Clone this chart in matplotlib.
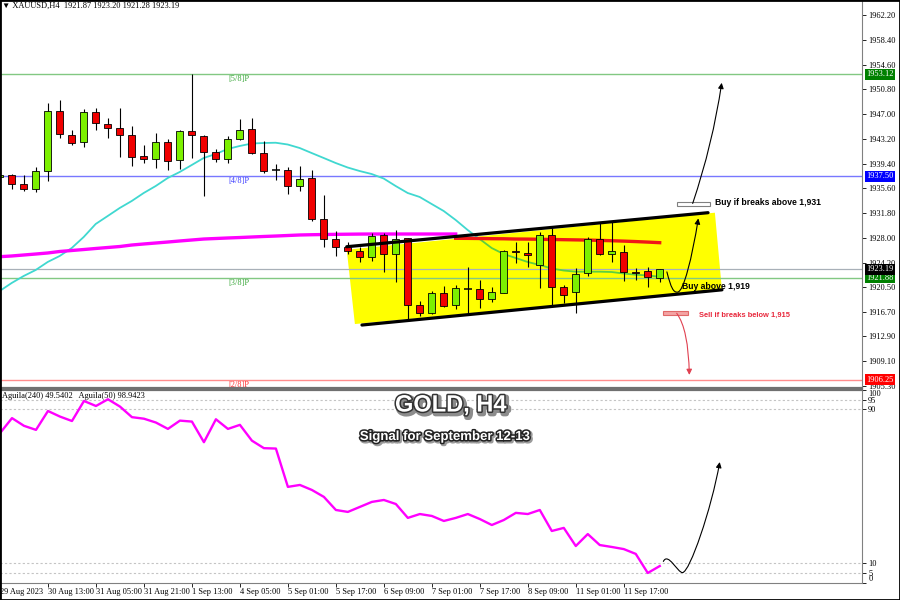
import matplotlib
matplotlib.use("Agg")
import matplotlib.pyplot as plt
import matplotlib.patheffects as pe
from matplotlib.patches import Rectangle, Polygon, FancyArrowPatch
from matplotlib.path import Path
from matplotlib.transforms import blended_transform_factory
import numpy as np

plt.rcParams['font.family'] = ['Liberation Serif', 'DejaVu Sans']

# XAUUSD H4 candles, bar -1 is the half hidden one on the left edge
opens = [1937.30, 1937.66, 1936.28, 1935.47, 1938.27, 1947.52, 1943.84, 1942.72,
         1947.28, 1945.48, 1944.91, 1943.84, 1940.53, 1940.16, 1942.77, 1939.96,
         1944.36, 1943.69, 1941.19, 1940.07, 1943.14, 1944.67, 1941.08, 1938.43,
         1938.43, 1935.97, 1937.15, 1930.87, 1927.89, 1926.66, 1926.00, 1925.04,
         1928.46, 1925.54, 1927.95, 1917.72, 1916.45, 1919.61, 1917.68, 1920.22,
         1920.13, 1918.60, 1919.61, 1926.05, 1925.74, 1923.86, 1928.46, 1920.53,
         1919.76, 1922.58, 1927.80, 1925.50, 1925.90, 1922.83, 1922.94, 1921.87]
highs = [1937.80, 1937.80, 1937.66, 1938.84, 1948.75, 1949.16, 1944.56, 1947.78,
         1947.98, 1946.36, 1947.98, 1945.22, 1942.26, 1944.15, 1943.14, 1944.56,
         1953.15, 1943.80, 1941.60, 1943.64, 1946.20, 1946.36, 1942.92, 1939.30,
         1938.93, 1939.04, 1938.43, 1934.59, 1929.12, 1927.43, 1926.66, 1928.72,
         1928.72, 1929.23, 1928.00, 1918.38, 1919.92, 1920.64, 1920.79, 1923.60,
         1921.56, 1920.44, 1926.10, 1927.34, 1927.43, 1928.96, 1929.49, 1920.79,
         1923.35, 1928.10, 1930.50, 1930.50, 1926.92, 1923.35, 1923.60, 1923.20]
lows = [1937.10, 1935.47, 1935.25, 1935.10, 1936.79, 1943.29, 1942.26, 1941.90,
        1944.56, 1943.29, 1940.47, 1939.04, 1939.45, 1938.69, 1938.43, 1938.58,
        1940.22, 1934.44, 1939.65, 1939.45, 1943.00, 1940.83, 1937.92, 1936.90,
        1934.75, 1935.25, 1930.65, 1926.66, 1925.24, 1925.54, 1924.27, 1924.47,
        1922.74, 1921.30, 1915.53, 1916.04, 1916.30, 1917.37, 1917.06, 1916.54,
        1917.20, 1918.23, 1919.50, 1924.21, 1923.60, 1920.28, 1917.57, 1917.98,
        1916.45, 1922.22, 1925.40, 1924.36, 1921.45, 1921.56, 1920.44, 1921.28]
closes = [1937.66, 1936.28, 1935.47, 1938.27, 1947.52, 1943.95, 1942.52, 1947.28,
          1945.60, 1944.91, 1943.84, 1940.47, 1940.07, 1942.68, 1939.85, 1944.36,
          1943.84, 1941.23, 1940.07, 1943.14, 1944.56, 1941.08, 1938.32, 1938.43,
          1935.97, 1937.09, 1930.87, 1927.84, 1926.66, 1926.05, 1925.04, 1928.35,
          1925.54, 1927.84, 1917.72, 1916.45, 1919.61, 1917.57, 1920.28, 1920.22,
          1918.60, 1919.67, 1926.00, 1925.80, 1925.39, 1928.46, 1920.53, 1919.26,
          1922.48, 1927.80, 1925.50, 1926.05, 1922.74, 1922.58, 1921.97, 1923.19]

# fast moving average (cyan, later green)
ma_fast = [1919.87, 1921.10, 1922.17, 1923.09, 1924.32, 1925.24, 1926.46, 1928.15,
           1930.15, 1931.37, 1932.60, 1933.67, 1934.90, 1935.97, 1937.20, 1938.12,
           1939.19, 1940.27, 1940.88, 1941.65, 1942.11, 1942.49, 1942.57, 1942.61,
           1942.34, 1941.80, 1941.03, 1940.27, 1939.50, 1938.81, 1938.27, 1937.81,
           1937.12, 1935.97, 1934.90, 1934.29, 1933.21, 1932.14, 1930.76, 1929.22,
           1927.84, 1926.46, 1925.54, 1924.93, 1924.32, 1923.86, 1923.32, 1923.01,
           1922.83, 1922.83, 1922.83, 1922.78, 1922.55, 1922.37, 1922.25, 1922.06]
# slow moving average, magenta part (bars -1..37) and red part (bars 37..54)
ma_slow = [1925.13, 1925.24, 1925.39, 1925.54, 1925.70, 1925.93, 1926.08, 1926.23,
           1926.39, 1926.54, 1926.69, 1926.92, 1927.08, 1927.23, 1927.38, 1927.54,
           1927.69, 1927.84, 1927.92, 1928.00, 1928.07, 1928.15, 1928.23, 1928.30,
           1928.38, 1928.46, 1928.50, 1928.53, 1928.56, 1928.58, 1928.60, 1928.61,
           1928.61, 1928.61, 1928.61, 1928.61, 1928.61, 1928.61, 1928.61]
ma_slow_red = [1927.95, 1927.94, 1927.92, 1927.89, 1927.88, 1927.84, 1927.83, 1927.80,
               1927.77, 1927.74, 1927.71, 1927.68, 1927.63, 1927.58, 1927.52, 1927.45,
               1927.37, 1927.28]

# Aguila(50) oscillator
aguila = [77.6, 85.4, 81.4, 79.3, 89.1, 86.2, 83.9, 94.3, 91.7, 95.2, 91.4, 85.9,
          85.1, 83.1, 79.8, 84.1, 83.6, 72.9, 84.8, 79.8, 81.9, 73.7, 69.8, 69.6,
          49.7, 50.7, 48.1, 44.5, 37.7, 36.7, 39.3, 41.9, 42.9, 40.8, 33.6, 35.6,
          34.6, 32.0, 33.6, 35.6, 33.0, 29.9, 32.5, 36.2, 35.6, 37.7, 26.8, 28.4,
          19.0, 25.2, 19.5, 18.5, 17.4, 14.9, 5.0, 8.6]

price_ticks = [1962.20, 1958.40, 1954.60, 1950.80, 1947.00, 1943.20, 1939.40, 1935.60,
               1931.80, 1928.00, 1924.20, 1920.50, 1916.70, 1912.90, 1909.10, 1905.30]
time_labels = ['29 Aug 2023', '30 Aug 13:00', '31 Aug 05:00', '31 Aug 21:00',
               '1 Sep 13:00', '4 Sep 05:00', '5 Sep 01:00', '5 Sep 17:00',
               '6 Sep 09:00', '7 Sep 01:00', '7 Sep 17:00', '8 Sep 09:00',
               '11 Sep 01:00', '11 Sep 17:00']
osc_ticks = [100, 95, 90, 10, 5, 0]

level_names = ['[5/8]P', '[4/8]P', '[3/8]P', '[2/8]P']
level_values = [1953.12, 1937.50, 1921.88, 1906.25]
last_price = 1923.19

bars = np.arange(-1, len(opens) - 1)
W, H = 900, 600


def px_rect(x0, y0, x1, y1):
    return [x0 / W, 1 - y1 / H, (x1 - x0) / W, (y1 - y0) / H]


fig = plt.figure(figsize=(9, 6), dpi=100)
ax = fig.add_axes(px_rect(0, 1, 862, 388))
ax2 = fig.add_axes(px_rect(0, 390, 862, 582.6))

xlim = (-0.975, 70.86)
ax.set_xlim(xlim)
ax.set_ylim(1904.99, 1964.35)
ax2.set_xlim(xlim)
ax2.set_ylim(0, 100)

# ---- main panel ----
# yellow channel box + trend lines
ax.add_patch(Polygon([(27.92, 1926.2), (58.6, 1931.88), (59.19, 1920.0), (28.6, 1914.8)],
                     closed=True, fc='#ffff00', ec='none', zorder=1))
ax.plot([27.92, 58.03], [1926.66, 1931.88], color='black', lw=2.3, zorder=5,
        solid_capstyle='round')
ax.plot([29.19, 59.19], [1914.65, 1920.05], color='black', lw=2.3, zorder=5,
        solid_capstyle='round')

line_cols = ['#82c882', '#7878ff', '#82c882', '#ff8c8c']
text_cols = ['#3ca83c', '#4040ff', '#3ca83c', '#ff3030']
box_cols = ['#008000', '#0000ff', '#008000', '#ff0000']
for name, v, lc, tc in zip(level_names, level_values, line_cols, text_cols):
    ax.axhline(v, color=lc, lw=1, zorder=1.5)
    ax.text(18.9, v - 0.8, name, color=tc, fontsize=6, ha='center', va='center', zorder=2)
ax.axhline(last_price, color='#a8b0b8', lw=0.9, zorder=1.5)

# moving averages
ax.plot(bars[:41], ma_fast[:41], color='#40d8d0', lw=1.3, zorder=2)
ax.plot(bars[40:], ma_fast[40:], color='#5cd040', lw=1.3, zorder=2)
ax.plot(bars[:39], ma_slow, color='#ff00ff', lw=2.4, zorder=2)
ax.plot(bars[38:], ma_slow_red, color='#f01818', lw=2.4, zorder=2)

# candles
o = np.array(opens)
c = np.array(closes)
ax.vlines(bars, lows, highs, color='black', lw=0.8, zorder=3)
body = np.abs(c - o) > 0.05
cols = np.where(c > o, '#7cf000', '#f00000')
ax.bar(bars[body], (c - o)[body], bottom=o[body], width=0.6, color=cols[body],
       edgecolor='black', linewidth=0.6, zorder=4)
ax.hlines(o[~body], bars[~body] - 0.32, bars[~body] + 0.32, color='black', lw=1.1, zorder=4)

# trade plan annotations
ax.add_patch(Rectangle((55.42, 1932.95), 2.77, 0.62, fc='white', ec='#808080', lw=0.8, zorder=6))
ax.add_patch(Rectangle((54.30, 1916.23), 2.03, 0.62, fc='#f4a4a4', ec='#e06868', lw=0.8, zorder=6))

p_up = Path([(56.75, 1933.3), (58.42, 1942.4), (59.17, 1951.8)],
            [Path.MOVETO, Path.CURVE3, Path.CURVE3])
p_bounce = Path([(54.6, 1922.8), (54.95, 1920.3), (55.15, 1919.6), (55.5, 1919.7),
                 (56.0, 1919.8), (56.7, 1925.0), (57.22, 1931.0)],
                [Path.MOVETO] + [Path.CURVE4] * 6)
p_down = Path([(55.42, 1916.45), (56.4, 1914.0), (56.47, 1907.0)],
              [Path.MOVETO, Path.CURVE3, Path.CURVE3])
for p, col in [(p_up, 'black'), (p_bounce, 'black'), (p_down, '#e04050')]:
    ax.add_patch(FancyArrowPatch(path=p, arrowstyle='-|>', mutation_scale=8,
                                 color=col, lw=0.8, transform=ax.transData, zorder=6))

ax.text(58.61, 1933.41, 'Buy if breaks above 1,931', family='Liberation Sans',
        weight='bold', fontsize=6.2, ha='left', va='center', zorder=7)
ax.text(55.83, 1920.53, 'Buy above 1,919', family='Liberation Sans',
        weight='bold', fontsize=6.2, ha='left', va='center', zorder=7)
ax.text(57.3, 1916.08, 'Sell if breaks below 1,915', family='Liberation Sans',
        weight='bold', fontsize=5.4, color='#e8283c', ha='left', va='center', zorder=7)

# price scale
ax.yaxis.tick_right()
ax.set_yticks(price_ticks)
ax.set_yticklabels([f'{t:.2f}' for t in price_ticks])
ax.tick_params(axis='y', length=3, width=0.6, pad=1.5, labelsize=6)
ax.set_xticks([])

tr = blended_transform_factory(ax.transAxes, ax.transData)
for v, bc in zip(level_values + [last_price], box_cols + ['black']):
    ax.text(1.005, v, f'{v:.2f}', transform=tr, fontsize=6, color='white',
            ha='left', va='center', clip_on=False, zorder=10,
            bbox=dict(boxstyle='square,pad=0.18', fc=bc, ec='none'))

for s in ['left', 'top']:
    ax.spines[s].set_visible(False)
ax.spines['right'].set_color('#808080')
ax.spines['bottom'].set_color('#707070')
ax.spines['bottom'].set_linewidth(1.6)

# ---- oscillator panel ----
for v in [95, 90, 10, 5]:
    ax2.axhline(v, color='#c4c4c4', lw=0.8, ls=(0, (2, 2)), zorder=1)
ax2.plot(bars, aguila, color='#ff00ff', lw=1.7, zorder=3)

p_osc = Path([(54.3, 11.0), (54.7, 16.0), (55.5, 5.0), (55.9, 5.2),
              (56.5, 5.5), (58.3, 38.0), (59.0, 62.6)],
             [Path.MOVETO] + [Path.CURVE4] * 6)
ax2.add_patch(FancyArrowPatch(path=p_osc, arrowstyle='-|>', mutation_scale=8,
                              color='black', lw=0.8, transform=ax2.transData, zorder=6))

ax2.yaxis.tick_right()
ax2.set_yticks(osc_ticks)
ax2.set_yticklabels([str(t) for t in osc_ticks])
ax2.tick_params(axis='y', length=3, width=0.6, pad=1.5, labelsize=6)
ylabs = ax2.get_yticklabels()
ylabs[0].set_va('top')
ylabs[-1].set_va('bottom')

ax2.set_xticks(np.arange(-1, 52, 4))
ax2.set_xticklabels(time_labels, ha='left')
ax2.tick_params(axis='x', length=3, width=0.6, pad=1, labelsize=6)

ax2.spines['left'].set_visible(False)
ax2.spines['top'].set_color('#707070')
ax2.spines['top'].set_linewidth(1.6)
ax2.spines['right'].set_color('#808080')
ax2.spines['bottom'].set_color('#808080')

# ---- headers and titles ----
fig.text(2 / W, 1 - 6 / H, '\u25BC XAUUSD,H4  1921.87 1923.20 1921.28 1923.19',
         fontsize=6, ha='left', va='center')
fig.text(2 / W, 1 - 396 / H, 'Aguila(240) 49.5402   Aguila(50) 98.9423',
         fontsize=6, ha='left', va='center')

fig.text(451 / W, 1 - 405 / H, 'GOLD, H4', family='Liberation Sans', weight='bold',
         fontsize=17, color='white', ha='center', va='center', zorder=10,
         path_effects=[pe.Stroke(linewidth=4, foreground='#8c8c8c', offset=(1.5, -1.5)),
                       pe.Stroke(linewidth=2.2, foreground='#333333'), pe.Normal()])
fig.text(445 / W, 1 - 437 / H, 'Signal for September 12-13', family='Liberation Sans',
         weight='bold', fontsize=9.5, color='white', ha='center', va='center', zorder=10,
         path_effects=[pe.Stroke(linewidth=3, foreground='#9a9a9a', offset=(1, -1)),
                       pe.Stroke(linewidth=2.2, foreground='#222222'), pe.Normal()])

fig.add_artist(Rectangle((0, 0), 1, 1, transform=fig.transFigure, fill=False,
                         ec='black', lw=2))

fig.savefig('out.png', dpi=100)
